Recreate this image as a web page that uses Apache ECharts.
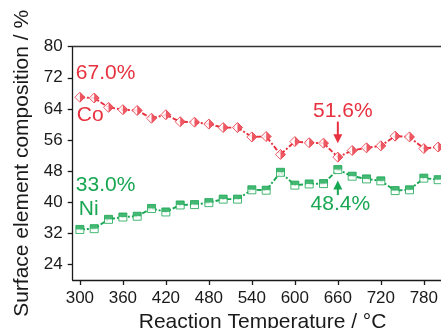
<!DOCTYPE html>
<html>
<head>
<meta charset="utf-8">
<script src="https://cdn.jsdelivr.net/npm/echarts@6/dist/echarts.min.js"></script>
<style>
  html, body { margin: 0; padding: 0; background: #fff; }
  #chart { width: 441px; height: 328px; }
</style>
</head>
<body>
<div id="chart"></div>
<script>
// Surface composition (at.%) of Co and Ni versus reaction temperature
const temperatures = [300, 320, 340, 360, 380, 400, 420, 440, 460, 480, 500, 520, 540,
                      560, 580, 600, 620, 640, 660, 680, 700, 720, 740, 760, 780, 800];
const coValues = [67.0, 66.8, 64.4, 63.8, 63.6, 61.6, 62.5, 60.7, 60.6, 60.1, 59.2, 59.2, 56.8,
                  56.9, 52.3, 55.6, 55.3, 55.2, 51.6, 53.3, 54.0, 54.5, 57.0, 56.8, 53.8, 54.2];
const niValues = [33.0, 33.2, 35.6, 36.2, 36.4, 38.4, 37.5, 39.3, 39.4, 39.9, 40.8, 40.8, 43.2,
                  43.1, 47.7, 44.4, 44.7, 44.8, 48.4, 46.7, 46.0, 45.5, 43.0, 43.2, 46.2, 45.8];
const xTickValues = [300, 360, 420, 480, 540, 600, 660, 720, 780];
const yTickValues = [24, 32, 40, 48, 56, 64, 72, 80];

const RED = '#E8313F';
const GREEN = '#17A651';
const AXIS = '#1a1a1a';
const FONT = '"Liberation Sans", Arial, sans-serif';

const coPoints = temperatures.map((t, i) => [t, coValues[i]]);
const niPoints = temperatures.map((t, i) => [t, niValues[i]]);

const chart = echarts.init(document.getElementById('chart'), null, { renderer: 'canvas' });

const dashDot = [5, 2, 2, 2];

chart.setOption({
  animation: false,
  backgroundColor: '#fff',
  grid: { left: 72.7, top: 46.7, bottom: 48, right: -11.5, outerBoundsMode: 'none', containLabel: false },
  xAxis: [{
    type: 'value',
    min: 290, max: 820,
    name: 'Reaction Temperature / \u00B0C',
    nameLocation: 'middle',
    nameGap: 28,
    nameTextStyle: { fontFamily: FONT, fontSize: 21, color: AXIS },
    axisLine: { show: true, lineStyle: { color: AXIS, width: 1.3 } },
    axisTick: { show: true, length: 5, lineStyle: { color: AXIS, width: 1.3 }, customValues: xTickValues },
    axisLabel: { margin: 10, fontFamily: FONT, fontSize: 17, color: AXIS, customValues: xTickValues },
    splitLine: { show: false }
  }, {
    type: 'value',
    position: 'top',
    min: 290, max: 820,
    axisLine: { show: true, onZero: false, lineStyle: { color: '#333', width: 1.3 } },
    axisTick: { show: false },
    axisLabel: { show: false },
    splitLine: { show: false }
  }],
  yAxis: {
    type: 'value',
    min: 20, max: 80,
    name: 'Surface element composition / %',
    nameLocation: 'middle',
    nameGap: 40,
    nameTextStyle: { fontFamily: FONT, fontSize: 21, color: AXIS },
    axisLine: { show: true, lineStyle: { color: AXIS, width: 1.3 } },
    axisTick: { show: true, length: 5, lineStyle: { color: AXIS, width: 1.3 }, customValues: yTickValues },
    axisLabel: { margin: 10, fontFamily: FONT, fontSize: 17, color: AXIS, customValues: yTickValues },
    splitLine: { show: false }
  },
  series: [
    // connecting dash-dot lines
    { name: 'Co', type: 'line', data: coPoints, symbol: 'none', z: 2,
      lineStyle: { color: RED, width: 1.9, type: dashDot } },
    { name: 'Ni', type: 'line', data: niPoints, symbol: 'none', z: 2,
      lineStyle: { color: GREEN, width: 1.9, type: dashDot } },
    // Co: diamond, left half open, right half filled
    { type: 'scatter', data: coPoints, symbol: 'diamond', symbolSize: [10, 10], z: 3,
      itemStyle: { color: '#fff', borderColor: RED, borderWidth: 1 } },
    { type: 'scatter', data: coPoints, symbol: 'path://M0,0 L1,1 L0,2 Z', symbolSize: [5, 10],
      symbolOffset: [2.5, 0], z: 4, itemStyle: { color: RED } },
    // Ni: square, top half filled, bottom half open
    { type: 'scatter', data: niPoints, symbol: 'rect', symbolSize: [8, 8], z: 3,
      itemStyle: { color: '#fff', borderColor: GREEN, borderWidth: 1 } },
    { type: 'scatter', data: niPoints, symbol: 'rect', symbolSize: [8, 4],
      symbolOffset: [0, -2], z: 4, itemStyle: { color: GREEN } }
  ]
});

// annotations anchored to the data points they describe
function px(seriesIndex, t, v) {
  return chart.convertToPixel({ seriesIndex: seriesIndex }, [t, v]);
}
function text(x, y, str, color, align) {
  return { type: 'text', x: x, y: y, z: 10,
    style: { text: str, fill: color, fontFamily: FONT, fontSize: 21,
             align: align || 'left', verticalAlign: 'middle' } };
}
function arrow(x, yTail, yTip, color) {
  const dir = yTip > yTail ? 1 : -1;
  const headLen = 9, headHalf = 4.5;
  return [
    { type: 'line', z: 10, shape: { x1: x, y1: yTail, x2: x, y2: yTip - dir * headLen + dir },
      style: { stroke: color, lineWidth: 2 } },
    { type: 'polygon', z: 10,
      shape: { points: [[x - headHalf, yTip - dir * headLen], [x + headHalf, yTip - dir * headLen], [x, yTip]] },
      style: { fill: color } }
  ];
}

const coStart = px(0, temperatures[0], coValues[0]);
const niStart = px(1, temperatures[0], niValues[0]);
const coMin = px(0, temperatures[18], coValues[18]);
const niMax = px(1, temperatures[18], niValues[18]);

chart.setOption({
  graphic: [
    text(coStart[0] - 4, coStart[1] - 24, coValues[0].toFixed(1) + '%', RED),
    text(coStart[0] - 3, coStart[1] + 18, 'Co', RED),
    text(niStart[0] - 4, niStart[1] - 44, niValues[0].toFixed(1) + '%', GREEN),
    text(niStart[0] - 1, niStart[1] - 20.5, 'Ni', GREEN),
    text(coMin[0] + 5, coMin[1] - 46, coValues[18].toFixed(1) + '%', RED, 'center'),
    ...arrow(coMin[0], coMin[1] - 35.5, coMin[1] - 14, RED),
    text(niMax[0] + 2.5, niMax[1] + 35, niValues[18].toFixed(1) + '%', GREEN, 'center'),
    ...arrow(niMax[0], niMax[1] + 25.5, niMax[1] + 11, GREEN)
  ]
});
</script>
</body>
</html>
